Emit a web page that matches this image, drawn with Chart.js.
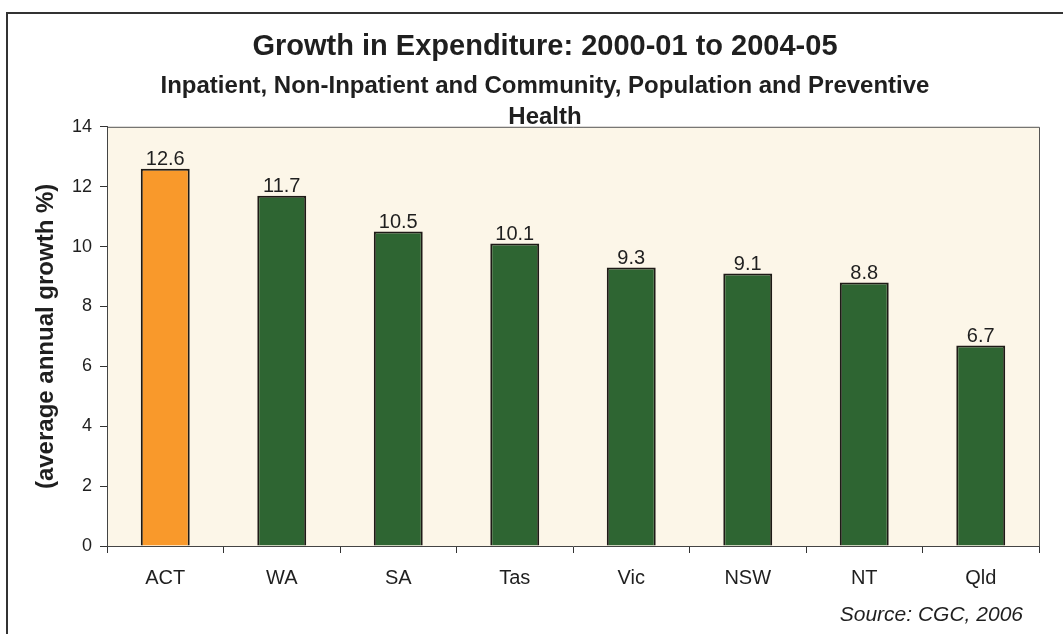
<!DOCTYPE html>
<html>
<head>
<meta charset="utf-8">
<title>Growth in Expenditure</title>
<script src="https://cdn.jsdelivr.net/npm/chart.js@4.4.0/dist/chart.umd.min.js"></script>
<style>
  html, body { margin: 0; padding: 0; background: #fff; }
  canvas { display: block; }
</style>
</head>
<body>
<canvas id="growth-chart" width="1063" height="634"></canvas>
<script>
// Average annual growth in expenditure by state, 2000-01 to 2004-05
const states = ['ACT', 'WA', 'SA', 'Tas', 'Vic', 'NSW', 'NT', 'Qld'];
const growth = [12.6, 11.7, 10.5, 10.1, 9.3, 9.1, 8.8, 6.7];
const highlightState = 'ACT';
const yMin = 0, yMax = 14, yStep = 2;

const FONT = "'Liberation Sans', Arial, Helvetica, sans-serif";
const INK  = '#1f1f1f';

// page frame + cream plot background
const framePlugin = {
  id: 'frame',
  beforeDraw(chart) {
    const { ctx, chartArea: a } = chart;
    ctx.save();
    ctx.fillStyle = '#fcf6e8';
    ctx.fillRect(a.left, a.top, a.right - a.left, a.bottom - a.top);
    ctx.strokeStyle = '#555';
    ctx.lineWidth = 1;
    ctx.beginPath();
    ctx.moveTo(a.left, a.top + 0.5);
    ctx.lineTo(a.right + 0.5, a.top + 0.5);
    ctx.lineTo(a.right + 0.5, a.bottom);
    ctx.stroke();
    ctx.strokeStyle = '#333';
    ctx.lineWidth = 2;
    ctx.beginPath();
    ctx.moveTo(7, chart.height);
    ctx.lineTo(7, 13);
    ctx.lineTo(chart.width, 13);
    ctx.stroke();
    ctx.restore();
  },
};

// value labels above each bar, plus the source note
const labelPlugin = {
  id: 'barLabels',
  afterDatasetsDraw(chart) {
    const { ctx, chartArea: a } = chart;
    const meta = chart.getDatasetMeta(0);
    ctx.save();
    ctx.fillStyle = INK;
    ctx.font = `20px ${FONT}`;
    ctx.textAlign = 'center';
    ctx.textBaseline = 'bottom';
    meta.data.forEach((bar, i) => {
      ctx.fillText(growth[i].toFixed(1), bar.x, bar.y + 1);
    });
    ctx.font = `italic 21px ${FONT}`;
    ctx.textAlign = 'right';
    ctx.textBaseline = 'middle';
    ctx.fillText('Source: CGC, 2006', a.right - 16, chart.height - 19);
    ctx.restore();
  },
};

new Chart(document.getElementById('growth-chart'), {
  type: 'bar',
  data: {
    labels: states,
    datasets: [{
      data: growth,
      backgroundColor: states.map(s => s === highlightState ? '#f9992b' : '#2e6532'),
      borderColor: '#1e1a16',
      borderWidth: 2,
      borderSkipped: 'bottom',
      categoryPercentage: 1,
      barPercentage: 0.42,
    }],
  },
  options: {
    responsive: false,
    animation: false,
    // wider left padding pulls the centred headings a little right
    layout: { padding: { top: 20, left: 51, right: 24, bottom: 31 } },
    plugins: {
      legend: { display: false },
      tooltip: { enabled: false },
      title: {
        display: true,
        text: 'Growth in Expenditure: 2000-01 to 2004-05',
        color: INK,
        font: { family: FONT, size: 29, weight: 'bold' },
        padding: { top: 9.6, bottom: 3 },
      },
      subtitle: {
        display: true,
        text: ['Inpatient, Non-Inpatient and Community, Population and Preventive', 'Health'],
        color: INK,
        font: { family: FONT, size: 24, weight: 'bold', lineHeight: 1.3 },
        padding: { top: 3, bottom: -6 },
      },
    },
    scales: {
      x: {
        grid: { display: true, offset: true, drawOnChartArea: false, drawTicks: true, tickLength: 7, color: '#333' },
        border: { display: true, color: '#444', width: 1 },
        ticks: { color: INK, padding: 13, font: { family: FONT, size: 20 } },
      },
      y: {
        min: yMin,
        max: yMax,
        afterFit(scale) { scale.width = 56; },
        grid: { display: true, drawOnChartArea: false, drawTicks: true, tickLength: 7, color: '#333' },
        border: { display: true, color: '#444', width: 1 },
        ticks: { stepSize: yStep, color: INK, padding: 8, font: { family: FONT, size: 18 } },
        title: {
          display: true,
          text: '(average annual growth %)',
          color: INK,
          font: { family: FONT, size: 24, weight: 'bold' },
          padding: { top: -19.4 },
        },
      },
    },
  },
  plugins: [framePlugin, labelPlugin],
});
</script>
</body>
</html>
